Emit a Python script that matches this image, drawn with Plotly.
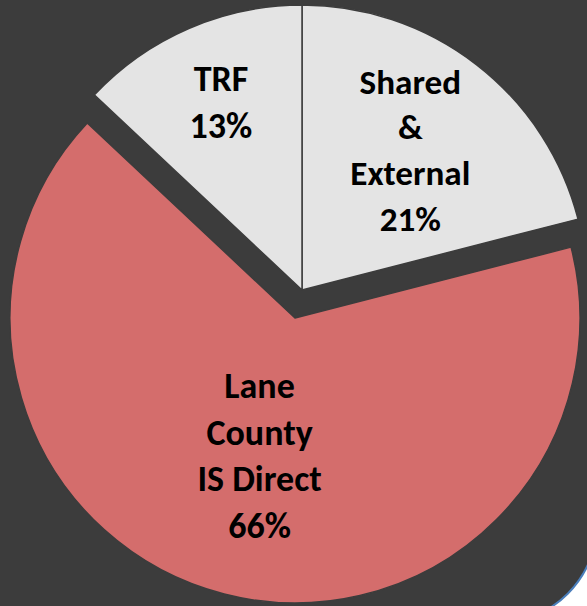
import plotly.graph_objects as go

# ---- data ----
labels = ["Shared<br>&<br>External", "Lane<br>County<br>IS Direct", "TRF"]
values = [21, 66, 13]
slice_colors = ["#e4e4e4", "#d46d6c", "#e4e4e4"]
detached = [False, True, False]   # Lane County slice is exploded away from the others

W, H = 587, 606
BG = "#3c3c3c"

total = sum(values)
texts = [f"{l}<br>{round(v / total * 100)}%" for l, v in zip(labels, values)]


def px_domain(cx, cy, r):
    return dict(x=[max(0, (cx - r) / W), min(1, (cx + r) / W)],
                y=[max(0, 1 - (cy + r) / H), min(1, 1 - (cy - r) / H)])


R = 285
TRANSPARENT = "rgba(0,0,0,0)"

fig = go.Figure()
for is_detached, (cx, cy) in [(False, (302, 290)), (True, (295, 318))]:
    show = [d == is_detached for d in detached]
    fig.add_trace(go.Pie(
        labels=labels,
        values=values,
        sort=False,
        direction="clockwise",
        rotation=0,
        domain=px_domain(cx, cy, R),
        marker=dict(
            colors=[c if s else TRANSPARENT for c, s in zip(slice_colors, show)],
            line=dict(color=BG, width=[1.5 if s else 0 for s in show]),
        ),
        text=[t if s else "" for t, s in zip(texts, show)],
        textinfo="text",
        textposition="inside",
        insidetextorientation="horizontal",
        textfont=dict(family="Carlito, Calibri, Lato, sans-serif", size=36, color="black", weight="bold"),
        hoverinfo="skip",
        showlegend=False,
    ))


# slide frame: dark rounded rectangle with a blue outline (corner visible bottom-right)
# drawn in pixel offsets from the bottom-right corner of the page (y positive = up)
k = 0.5523 * 100
frame = (f"M -700 -17 L 10 -17 L 10 83 "
         f"C 10 {83 - k} {-90 + k} -17 -90 -17 Z")
frame = (f"M -700 700 L 10 700 L 10 83 "
         f"C 10 {83 - k} {-90 + k} -17 -90 -17 "
         f"L -700 -17 Z")

fig.update_layout(
    width=W, height=H,
    margin=dict(l=0, r=0, t=0, b=0),
    paper_bgcolor="white",
    plot_bgcolor="white",
    shapes=[dict(type="path", xref="paper", yref="paper",
                 xsizemode="pixel", ysizemode="pixel", xanchor=1, yanchor=0,
                 path=frame, fillcolor=BG,
                 line=dict(color="#4a7ebb", width=2), layer="below")],
)

fig.write_html(
    "out.html",
    config={"displayModeBar": False},
    post_script="document.body.style.margin='0';document.body.style.overflow='hidden';",
)
